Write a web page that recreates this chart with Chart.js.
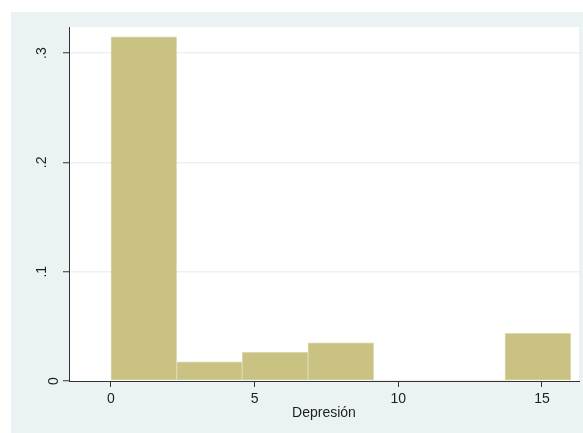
<!DOCTYPE html>
<html>
<head>
<meta charset="utf-8">
<script src="https://cdn.jsdelivr.net/npm/chart.js@4"></script>
<style>
  html, body { margin: 0; padding: 0; background: #ffffff; }
  canvas { display: block; }
</style>
</head>
<body>
<canvas id="c" width="583" height="433"></canvas>
<script>
// ---- data ----
const binCenters = [1.143, 3.429, 5.714, 8.0, 10.286, 12.571, 14.857];
const densities  = [0.315, 0.0175, 0.0263, 0.035, 0, 0, 0.0437];
const xTicks = [0, 5, 10, 15];
const yTicks = [0, 0.1, 0.2, 0.3];
const yTickLabels = ['0', '.1', '.2', '.3'];
const xTitle = 'Depresión';

const FONT = '"Liberation Sans", Arial, Helvetica, sans-serif';
const BG = '#eaf2f3';
const AXIS = '#333333';
const TEXT = '#1e1e1e';

const bgPlugin = {
  id: 'bg',
  beforeDraw(chart) {
    const ctx = chart.ctx, a = chart.chartArea;
    ctx.save();
    ctx.fillStyle = '#ffffff';
    ctx.fillRect(0, 0, chart.width, chart.height);
    ctx.fillStyle = BG;
    ctx.fillRect(11, 12, chart.width - 11, chart.height - 12);
    ctx.fillStyle = '#ffffff';
    ctx.fillRect(a.left, a.top, a.right - a.left, a.bottom - a.top);
    ctx.restore();
  }
};

const yLabelPlugin = {
  id: 'ylabels',
  afterDraw(chart) {
    const ctx = chart.ctx, ys = chart.scales.y;
    ctx.save();
    ctx.font = '14px ' + FONT;
    ctx.fillStyle = TEXT;
    ctx.textAlign = 'center';
    ctx.textBaseline = 'alphabetic';
    yTicks.forEach((v, i) => {
      const label = yTickLabels[i];
      const py = ys.getPixelForValue(v);
      const px = label === '0' ? 58 : 45.5;
      ctx.save();
      ctx.translate(px, py);
      ctx.rotate(-Math.PI / 2);
      ctx.fillText(label, 0, 0);
      ctx.restore();
    });
    ctx.restore();
  }
};

new Chart(document.getElementById('c'), {
  type: 'bar',
  data: {
    datasets: [{
      data: binCenters.map((x, i) => ({ x: x, y: densities[i] })),
      backgroundColor: '#c9c283',
      borderColor: '#dcd8aa',
      borderWidth: (c) => (c.raw && c.raw.y > 0 ? 1 : 0),
      borderSkipped: false,
      barPercentage: 1,
      categoryPercentage: 1
    }]
  },
  options: {
    responsive: false,
    animation: false,
    devicePixelRatio: 1,
    layout: { padding: { left: 0, right: 4, top: 27, bottom: 0 } },
    plugins: { legend: { display: false }, tooltip: { enabled: false } },
    scales: {
      x: {
        type: 'linear',
        offset: false,
        min: -1.46,
        max: 16.29,
        afterBuildTicks: (s) => { s.ticks = xTicks.map(v => ({ value: v })); },
        afterFit: (s) => { s.height = 52; },
        ticks: {
          font: { size: 14, family: FONT },
          color: TEXT,
          padding: 4,
          maxRotation: 0,
          callback: (v) => String(v)
        },
        grid: {
          offset: false,
          drawOnChartArea: false,
          drawTicks: true,
          tickLength: 6,
          tickColor: AXIS,
          tickWidth: 1
        },
        border: { display: true, color: AXIS, width: 1 },
        title: {
          display: true,
          text: xTitle,
          color: TEXT,
          font: { size: 14, family: FONT },
          padding: { top: 0, bottom: 11 }
        }
      },
      y: {
        type: 'linear',
        min: 0,
        max: 0.3239,
        afterBuildTicks: (s) => { s.ticks = yTicks.map(v => ({ value: v })); },
        afterFit: (s) => { s.width = 69; },
        ticks: { display: false },
        grid: {
          color: (c) => (c.tick && c.tick.value === 0 ? 'rgba(0,0,0,0)' : BG),
          lineWidth: 1.5,
          drawTicks: true,
          tickLength: 6,
          tickColor: AXIS,
          tickWidth: 1
        },
        border: { display: true, color: AXIS, width: 1 }
      }
    }
  },
  plugins: [bgPlugin, yLabelPlugin]
});
</script>
</body>
</html>
